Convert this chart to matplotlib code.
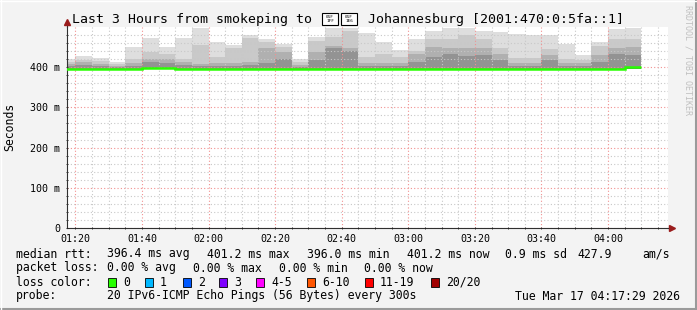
import numpy as np
import matplotlib
matplotlib.use("Agg")
import matplotlib.pyplot as plt
from matplotlib.lines import Line2D
from matplotlib.patches import Rectangle

# 5 minute bins, start time in minutes after 01:00
bin_start = np.arange(15, 190, 5)

median_ms = [396.2, 396.1, 396.0, 396.2, 396.1, 396.9, 396.8, 396.1, 396.3, 396.2,
             396.4, 396.3, 396.1, 396.2, 396.0, 396.2, 396.5, 396.3, 396.1, 396.2,
             396.0, 396.4, 396.3, 396.2, 396.5, 396.3, 396.1, 396.0, 396.2, 396.3,
             396.1, 396.2, 396.0, 396.3, 401.2]
ping_min = [395.5, 395.4, 395.3, 395.5, 395.4, 396.0, 395.9, 395.4, 395.6, 395.5,
            395.7, 395.6, 395.4, 395.5, 395.3, 395.5, 395.8, 395.6, 395.4, 395.5,
            395.3, 395.7, 395.6, 395.5, 395.8, 395.6, 395.4, 395.3, 395.5, 395.6,
            395.4, 395.5, 395.3, 395.6, 396.0]
ping_low = [402, 406, 403, 401, 403, 412, 410, 405, 403, 404,
            404, 405, 410, 420, 401, 418, 447, 441, 403, 403,
            404, 414, 425, 432, 428, 430, 419, 403, 404, 419,
            404, 403, 414, 432, 430]
ping_mid = [408, 412, 408, 404, 410, 421, 421, 412, 408, 410,
            410, 412, 448, 437, 405, 439, 453, 448, 410, 410,
            410, 434, 450, 448, 448, 448, 434, 410, 410, 430,
            410, 410, 430, 448, 450]
ping_hi = [414, 419, 415, 408, 421, 439, 433, 421, 455, 425,
           447, 472, 462, 450, 412, 466, 474, 489, 425, 432,
           425, 440, 470, 470, 480, 470, 448, 423, 423, 445,
           421, 419, 453, 470, 470]
ping_max = [421, 428, 422, 412, 450, 473, 450, 473, 497, 462,
            455, 481, 470, 458, 421, 476, 497, 497, 484, 462,
            444, 470, 491, 497, 497, 491, 487, 483, 481, 479,
            458, 431, 462, 494, 497]

x_ticks = [20, 40, 60, 80, 100, 120, 140, 160, 180]
x_labels = ["01:20", "01:40", "02:00", "02:20", "02:40", "03:00", "03:20", "03:40", "04:00"]
y_ticks = [0, 100, 200, 300, 400]
y_labels = ["0", "100 m", "200 m", "300 m", "400 m"]

loss_colors = ["#26ff00", "#00b8ff", "#0059ff", "#7e00ff", "#ff00ff", "#ff5500", "#ff0000", "#a10000"]
loss_labels = ["0", "1", "2", "3", "4-5", "6-10", "11-19", "20/20"]

W, H = 697, 310
mono = "DejaVu Sans Mono"
plt.rcParams["font.family"] = mono

fig = plt.figure(figsize=(W / 100, H / 100), dpi=100, facecolor="#f3f3f3")
ax = fig.add_axes([67 / W, (H - 228) / H, 601 / W, 201 / H], facecolor="white")

edges = np.append(bin_start, bin_start[-1] + 5)
widths = np.diff(edges)
med = np.array(median_ms)

layers = [(ping_max, "#dedede"), (ping_hi, "#c9c9c9"), (ping_mid, "#b0b0b0"), (ping_low, "#939393")]
for vals, col in layers:
    ax.bar(bin_start, np.array(vals) - med, bottom=med, width=widths, align="edge",
           color=col, linewidth=0, zorder=1)
ax.bar(bin_start, med - np.array(ping_min), bottom=ping_min, width=widths, align="edge",
       color="#6e6e6e", linewidth=0, zorder=1)
ax.stairs(med, edges, baseline=None, color="#26ff00", linewidth=1.8, zorder=4)

ax.set_xlim(17.5, 198.0)
ax.set_ylim(0, 500)
ax.set_xticks(x_ticks)
ax.set_xticklabels(x_labels)
ax.set_xticks(np.arange(20, 198, 5), minor=True)
ax.set_yticks(y_ticks)
ax.set_yticklabels(y_labels)
ax.set_yticks(np.arange(0, 500, 20), minor=True)

ax.set_axisbelow(False)
ax.grid(which="minor", color="#c8c8c8", linestyle=(0, (1, 2)), linewidth=0.8, zorder=2)
ax.grid(which="major", color="#f29090", linestyle=(0, (1, 2)), linewidth=0.8, zorder=3)

ax.tick_params(which="both", labelsize=7.2, colors="#202020", length=2, width=0.6,
               direction="inout")
ax.tick_params(axis="x", pad=3)
ax.tick_params(axis="y", pad=4)
for lab in ax.get_xticklabels() + ax.get_yticklabels():
    lab.set_color("black")

for s in ("top", "right"):
    ax.spines[s].set_visible(False)
for s in ("left", "bottom"):
    ax.spines[s].set_color("#303030")
    ax.spines[s].set_linewidth(0.8)

# axis arrows
ax.plot([0, 0], [1, 1.02], transform=ax.transAxes, color="#303030", lw=0.8, clip_on=False)
ax.plot([0], [1.025], transform=ax.transAxes, marker="^", color="#9a1c1c", ms=4, clip_on=False)
ax.plot([1, 1.005], [0, 0], transform=ax.transAxes, color="#303030", lw=0.8, clip_on=False)
ax.plot([1.006], [0], transform=ax.transAxes, marker=">", color="#9a1c1c", ms=4, clip_on=False)

fig.text(10 / W, 1 - 127 / H, "Seconds", rotation=90, ha="center", va="center",
         fontsize=8.3, family=mono)

# title; the flag (regional indicators Z A) has no glyph in any installed font,
# so it is drawn as two "missing glyph" boxes like rrdtool does
fig.text(72 / W, 1 - 19 / H, "Last 3 Hours from smokeping to", ha="left", va="center",
         fontsize=9.5, family=mono)
for bx, code in [(322, "01F\n1FF"), (341, "01F\n1E6")]:
    fig.patches.append(Rectangle((bx / W, 1 - 25 / H), 16 / W, 12 / H, transform=fig.transFigure,
                                 facecolor="white", edgecolor="black", linewidth=0.8))
    fig.text((bx + 8) / W, 1 - 19 / H, code, ha="center", va="center", fontsize=3.2,
             family=mono, linespacing=0.9)
fig.text(368 / W, 1 - 19 / H, "Johannesburg [2001:470:0:5fa::1]", ha="left", va="center",
         fontsize=9.5, family=mono)

fig.text(688 / W, 1 - 60 / H, "RRDTOOL / TOBI OETIKER", rotation=270, ha="center",
         va="center", fontsize=6, color="#c0c0c0", family=mono)

fs = 8.3
def put(x, y, s, **kw):
    fig.text(x / W, 1 - y / H, s, ha=kw.pop("ha", "left"), va="center", fontsize=fs,
             family=mono, **kw)

# legend line 1
put(16, 254, "median rtt:")
put(107, 254, "396.4 ms avg")
put(207, 254, "401.2 ms max")
put(307, 254, "396.0 ms min")
put(407, 254, "401.2 ms now")
put(505, 254, "0.9 ms sd")
put(577, 254, "427.9")
put(642, 254, "am/s")

# legend line 2
put(16, 268, "packet loss:")
put(107, 268, "0.00 % avg")
put(193, 268, "0.00 % max")
put(279, 268, "0.00 % min")
put(364, 268, "0.00 % now")

# legend line 3
put(16, 282, "loss color:")
sq_x = [108, 145, 183, 219, 256, 307, 365, 431]
for xs, col, lab in zip(sq_x, loss_colors, loss_labels):
    fig.patches.append(Rectangle((xs / W, 1 - 287 / H), 8 / W, 9 / H, transform=fig.transFigure,
                                 facecolor=col, edgecolor="black", linewidth=0.6))
    put(xs + 15, 282, lab)

# legend line 4
put(16, 296, "probe:")
put(107, 296, "20 IPv6-ICMP Echo Pings (56 Bytes) every 300s")
put(680, 296, "Tue Mar 17 04:17:29 2026", ha="right")

# image frame
fig.lines.append(Line2D([0, 1], [1 / H, 1 / H], transform=fig.transFigure, color="#9a9a9a", lw=1.5))
fig.lines.append(Line2D([1 - 1 / W, 1 - 1 / W], [0, 1], transform=fig.transFigure, color="#9a9a9a", lw=1.5))
fig.lines.append(Line2D([0, 1], [1 - 0.5 / H, 1 - 0.5 / H], transform=fig.transFigure, color="#ffffff", lw=1))
fig.lines.append(Line2D([0.5 / W, 0.5 / W], [0, 1], transform=fig.transFigure, color="#ffffff", lw=1))

fig.savefig("out.png", dpi=100, facecolor=fig.get_facecolor())
